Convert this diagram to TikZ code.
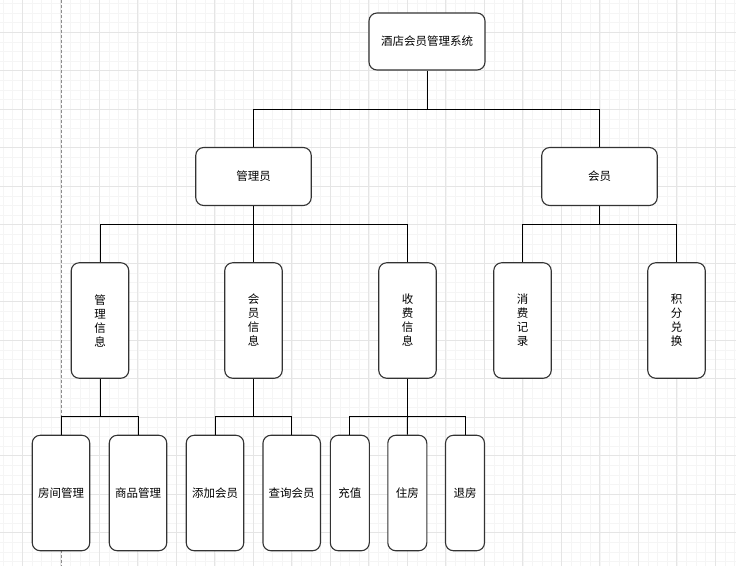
\documentclass[tikz,border=0pt]{standalone}
\usepackage{fontspec}
\newfontfamily\cjk{Noto Sans CJK SC}
\usetikzlibrary{positioning}

\begin{document}
\begin{tikzpicture}[x=1pt, y=-1pt, align=center,
    every node/.style={font=\cjk\fontsize{11.5}{14}\selectfont},
    box/.style={draw=black!80, line width=1.1pt, rounded corners=8pt, fill=white, inner sep=0pt},
    wide/.style={box, minimum width=115.5pt, minimum height=58pt},
    tall/.style={box, minimum width=57.5pt, minimum height=115.5pt},
    thin/.style={box, minimum width=39pt, minimum height=115.5pt},
    link/.style={draw=black, line width=1pt}]
        \useasboundingbox (0,0) rectangle (736,566);

        % grid of the canvas
        \fill[white] (0,0) rectangle (736,566);
        \foreach \i in {0,...,76}
            \draw[black!4, line width=0.6pt] (3.05+9.625*\i,0) -- ++(0,566);
        \foreach \j in {0,...,59}
            \draw[black!4, line width=0.6pt] (0,3.4+9.625*\j) -- ++(736,0);
        \foreach \i in {0,...,18}
            \draw[black!10, line width=0.7pt] (22.3+38.5*\i,0) -- ++(0,566);
        \foreach \j in {0,...,14}
            \draw[black!10, line width=0.7pt] (0,32.3+38.5*\j) -- ++(736,0);
        \draw[black!45, line width=1pt, dash pattern=on 3pt off 2pt] (61,0) -- (61,566);

        \node [wide, minimum width=116pt, minimum height=57pt] (hotel) at (427,41.5) {酒店会员管理系统};

        \node [wide] (admin) at (253.5,176.5) {管理员};
        \node [wide] (member) at (599.5,176.5) {会员};

        \node [tall] (manage) at (100,320.5) {管\\理\\信\\息};
        \node [tall] (vip) at (253.5,320.5) {会\\员\\信\\息};
        \node [tall] (fee) at (407.5,320.5) {收\\费\\信\\息};
        \node [tall] (record) at (522.5,320.5) {消\\费\\记\\录};
        \node [tall] (points) at (676.5,320.5) {积\\分\\兑\\换};

        \node [tall] (room) at (61,493) {房间管理};
        \node [tall] (goods) at (138,493) {商品管理};
        \node [tall] (add) at (215,493) {添加会员};
        \node [tall] (query) at (291.7,493) {查询会员};
        \node [thin] (charge) at (349.8,493) {充值};
        \node [thin] (checkin) at (407.3,493) {住房};
        \node [thin] (checkout) at (465,493) {退房};

        \coordinate (topbus) at (427,109);
        \coordinate (adminbus) at (253.5,224);
        \coordinate (memberbus) at (599.5,224);
        \coordinate (managebus) at (100,416);
        \coordinate (vipbus) at (253.5,416);
        \coordinate (feebus) at (407.5,416);

        \draw[link] (hotel) -- (topbus) -| (admin);
        \draw[link] (topbus) -| (member);

        \draw[link] (admin) -- (adminbus) -| (manage);
        \draw[link] (adminbus) -- (vip);
        \draw[link] (adminbus) -| (fee);
        \draw[link] (member) -- (memberbus) -| (record);
        \draw[link] (memberbus) -| (points);

        \draw[link] (manage) -- (managebus) -| (room);
        \draw[link] (managebus) -| (goods);
        \draw[link] (vip) -- (vipbus) -| (add);
        \draw[link] (vipbus) -| (query);
        \draw[link] (fee) -- (feebus) -| (charge);
        \draw[link] (feebus) -- (checkin);
        \draw[link] (feebus) -| (checkout);
    \end{tikzpicture}
\end{document}
